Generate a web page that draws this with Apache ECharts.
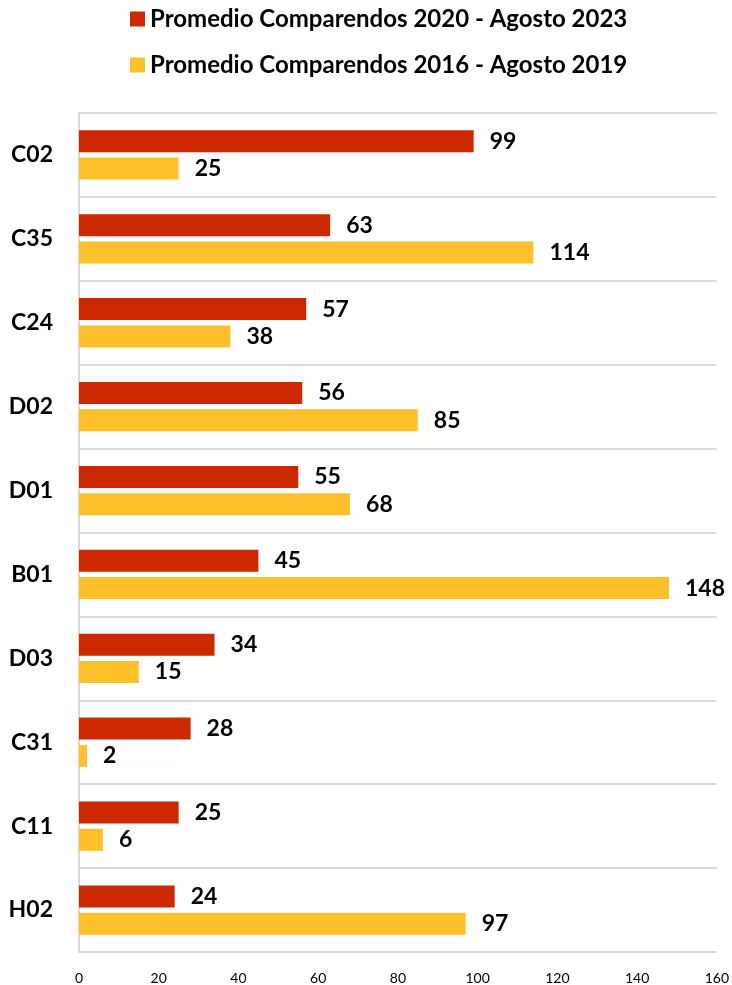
<!DOCTYPE html>
<html><head><meta charset="utf-8">
<script src="https://cdn.jsdelivr.net/npm/echarts@6/dist/echarts.min.js"></script>
<style>html,body{margin:0;padding:0;background:#fff}#c{width:732px;height:985px}</style>
</head><body><div id="c"></div>
<script>
const categories = ['C02','C35','C24','D02','D01','B01','D03','C31','C11','H02'];
const series2020 = [99,63,57,56,55,45,34,28,25,24];
const series2016 = [25,114,38,85,68,148,15,2,6,97];
const seriesNames = ['Promedio Comparendos 2020 - Agosto 2023','Promedio Comparendos 2016 - Agosto 2019'];
const xTicks = {min:0,max:160,interval:20};

const FONT = 'Lato, "Open Sans", sans-serif';
const chart = echarts.init(document.getElementById('c'));
const label = {show:true,position:'right',distance:16,color:'#000',fontWeight:'bold',fontSize:23,fontFamily:FONT};
chart.setOption({
  animation:false,
  legend:{orient:'vertical',left:125,top:2,itemWidth:15,itemHeight:15,itemGap:22,
    icon:'rect',
    textStyle:{fontSize:24,fontWeight:'bold',color:'#000',fontFamily:FONT},
    data:seriesNames},
  grid:{left:79,right:13,top:113,bottom:33,containLabel:false},
  xAxis:{type:'value',min:xTicks.min,max:xTicks.max,interval:xTicks.interval,
    axisLine:{show:false},axisTick:{show:false},splitLine:{show:false},
    axisLabel:{color:'#000',fontSize:14,fontFamily:FONT,margin:19}},
  yAxis:{type:'category',data:categories,inverse:true,
    axisLine:{show:true,lineStyle:{color:'#d9d9d9',width:2}},axisTick:{show:false},
    splitLine:{show:true,lineStyle:{color:'#d9d9d9',width:2}},
    axisLabel:{color:'#000',fontSize:23,fontWeight:'bold',fontFamily:FONT,margin:26}},
  series:[
    {name:seriesNames[0],type:'bar',data:series2020,barWidth:22,barGap:'24%',itemStyle:{color:'#CC2900'},label:label},
    {name:seriesNames[1],type:'bar',data:series2016,barWidth:22,barGap:'24%',itemStyle:{color:'#FFC12B'},label:label}
  ]
});
</script></body></html>
